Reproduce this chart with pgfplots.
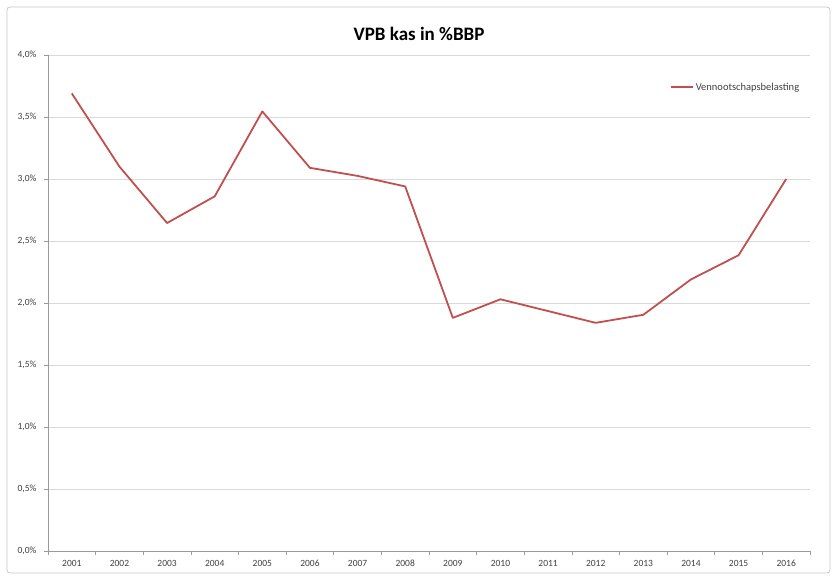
\documentclass[border=0pt]{standalone}
\usepackage{pgfplots}
\pgfplotsset{compat=1.18}
\usepackage{fontspec}
\setmainfont{Carlito}
\definecolor{exred}{HTML}{C0504D}
\definecolor{gridgray}{HTML}{D9D9D9}
\definecolor{axgray}{HTML}{9A9A9A}
\definecolor{lblgray}{HTML}{404040}
\pgfplotstableread{
x y
1 3.69
2 3.10
3 2.645
4 2.86
5 3.545
6 3.09
7 3.025
8 2.94
9 1.88
10 2.03
11 1.935
12 1.84
13 1.905
14 2.19
15 2.385
16 3.00
}\vpb
\begin{document}
\begin{tikzpicture}[x=1pt,y=1pt]
\useasboundingbox (0,0) rectangle (834,575);
\draw[gridgray!80!gray, line width=0.8pt, rounded corners=3pt] (7,2) rectangle (830,568);
\node[font=\bfseries\fontsize{19}{21}\selectfont, text=black] at (419,541) {VPB kas in \%BBP};
\begin{axis}[
  at={(48pt,24pt)}, anchor=south west,
  scale only axis, width=762pt, height=496pt,
  xmin=0.5, xmax=16.5, ymin=0, ymax=4,
  axis x line=bottom, axis y line=left,
  axis line style={-, axgray, line width=0.8pt},
  xtick={1,...,16},
  xticklabels={2001,2002,2003,2004,2005,2006,2007,2008,2009,2010,2011,2012,2013,2014,2015,2016},
  minor xtick={0.5,1.5,...,16.5},
  ytick={0,0.5,...,4},
  yticklabels={{0,0\%},{0,5\%},{1,0\%},{1,5\%},{2,0\%},{2,5\%},{3,0\%},{3,5\%},{4,0\%}},
  major x tick style={draw=none},
  minor x tick style={axgray, line width=0.6pt},
  major y tick style={axgray, line width=0.6pt},
  tick align=outside,
  major tick length=4pt, minor tick length=4pt,
  ymajorgrids, grid style={gridgray, line width=0.8pt},
  tick label style={font=\fontsize{9.5}{10}\selectfont, text=lblgray},
  xticklabel style={yshift=-1pt, anchor=north, text height=7pt, text depth=0pt},
  yticklabel style={xshift=-4pt},
  legend style={at={(0.816,0.935)}, anchor=west, draw=none, fill=none,
    inner sep=0pt, font=\fontsize{10.5}{11}\selectfont, text=lblgray},
  legend image code/.code={\draw[#1] (0pt,0pt) -- (22pt,0pt);},
  clip=false,
]
\addplot[exred, line width=1.8pt, line join=round] table[x=x,y=y] {\vpb};
\addlegendentry{Vennootschapsbelasting}
\end{axis}
\end{tikzpicture}
\end{document}
